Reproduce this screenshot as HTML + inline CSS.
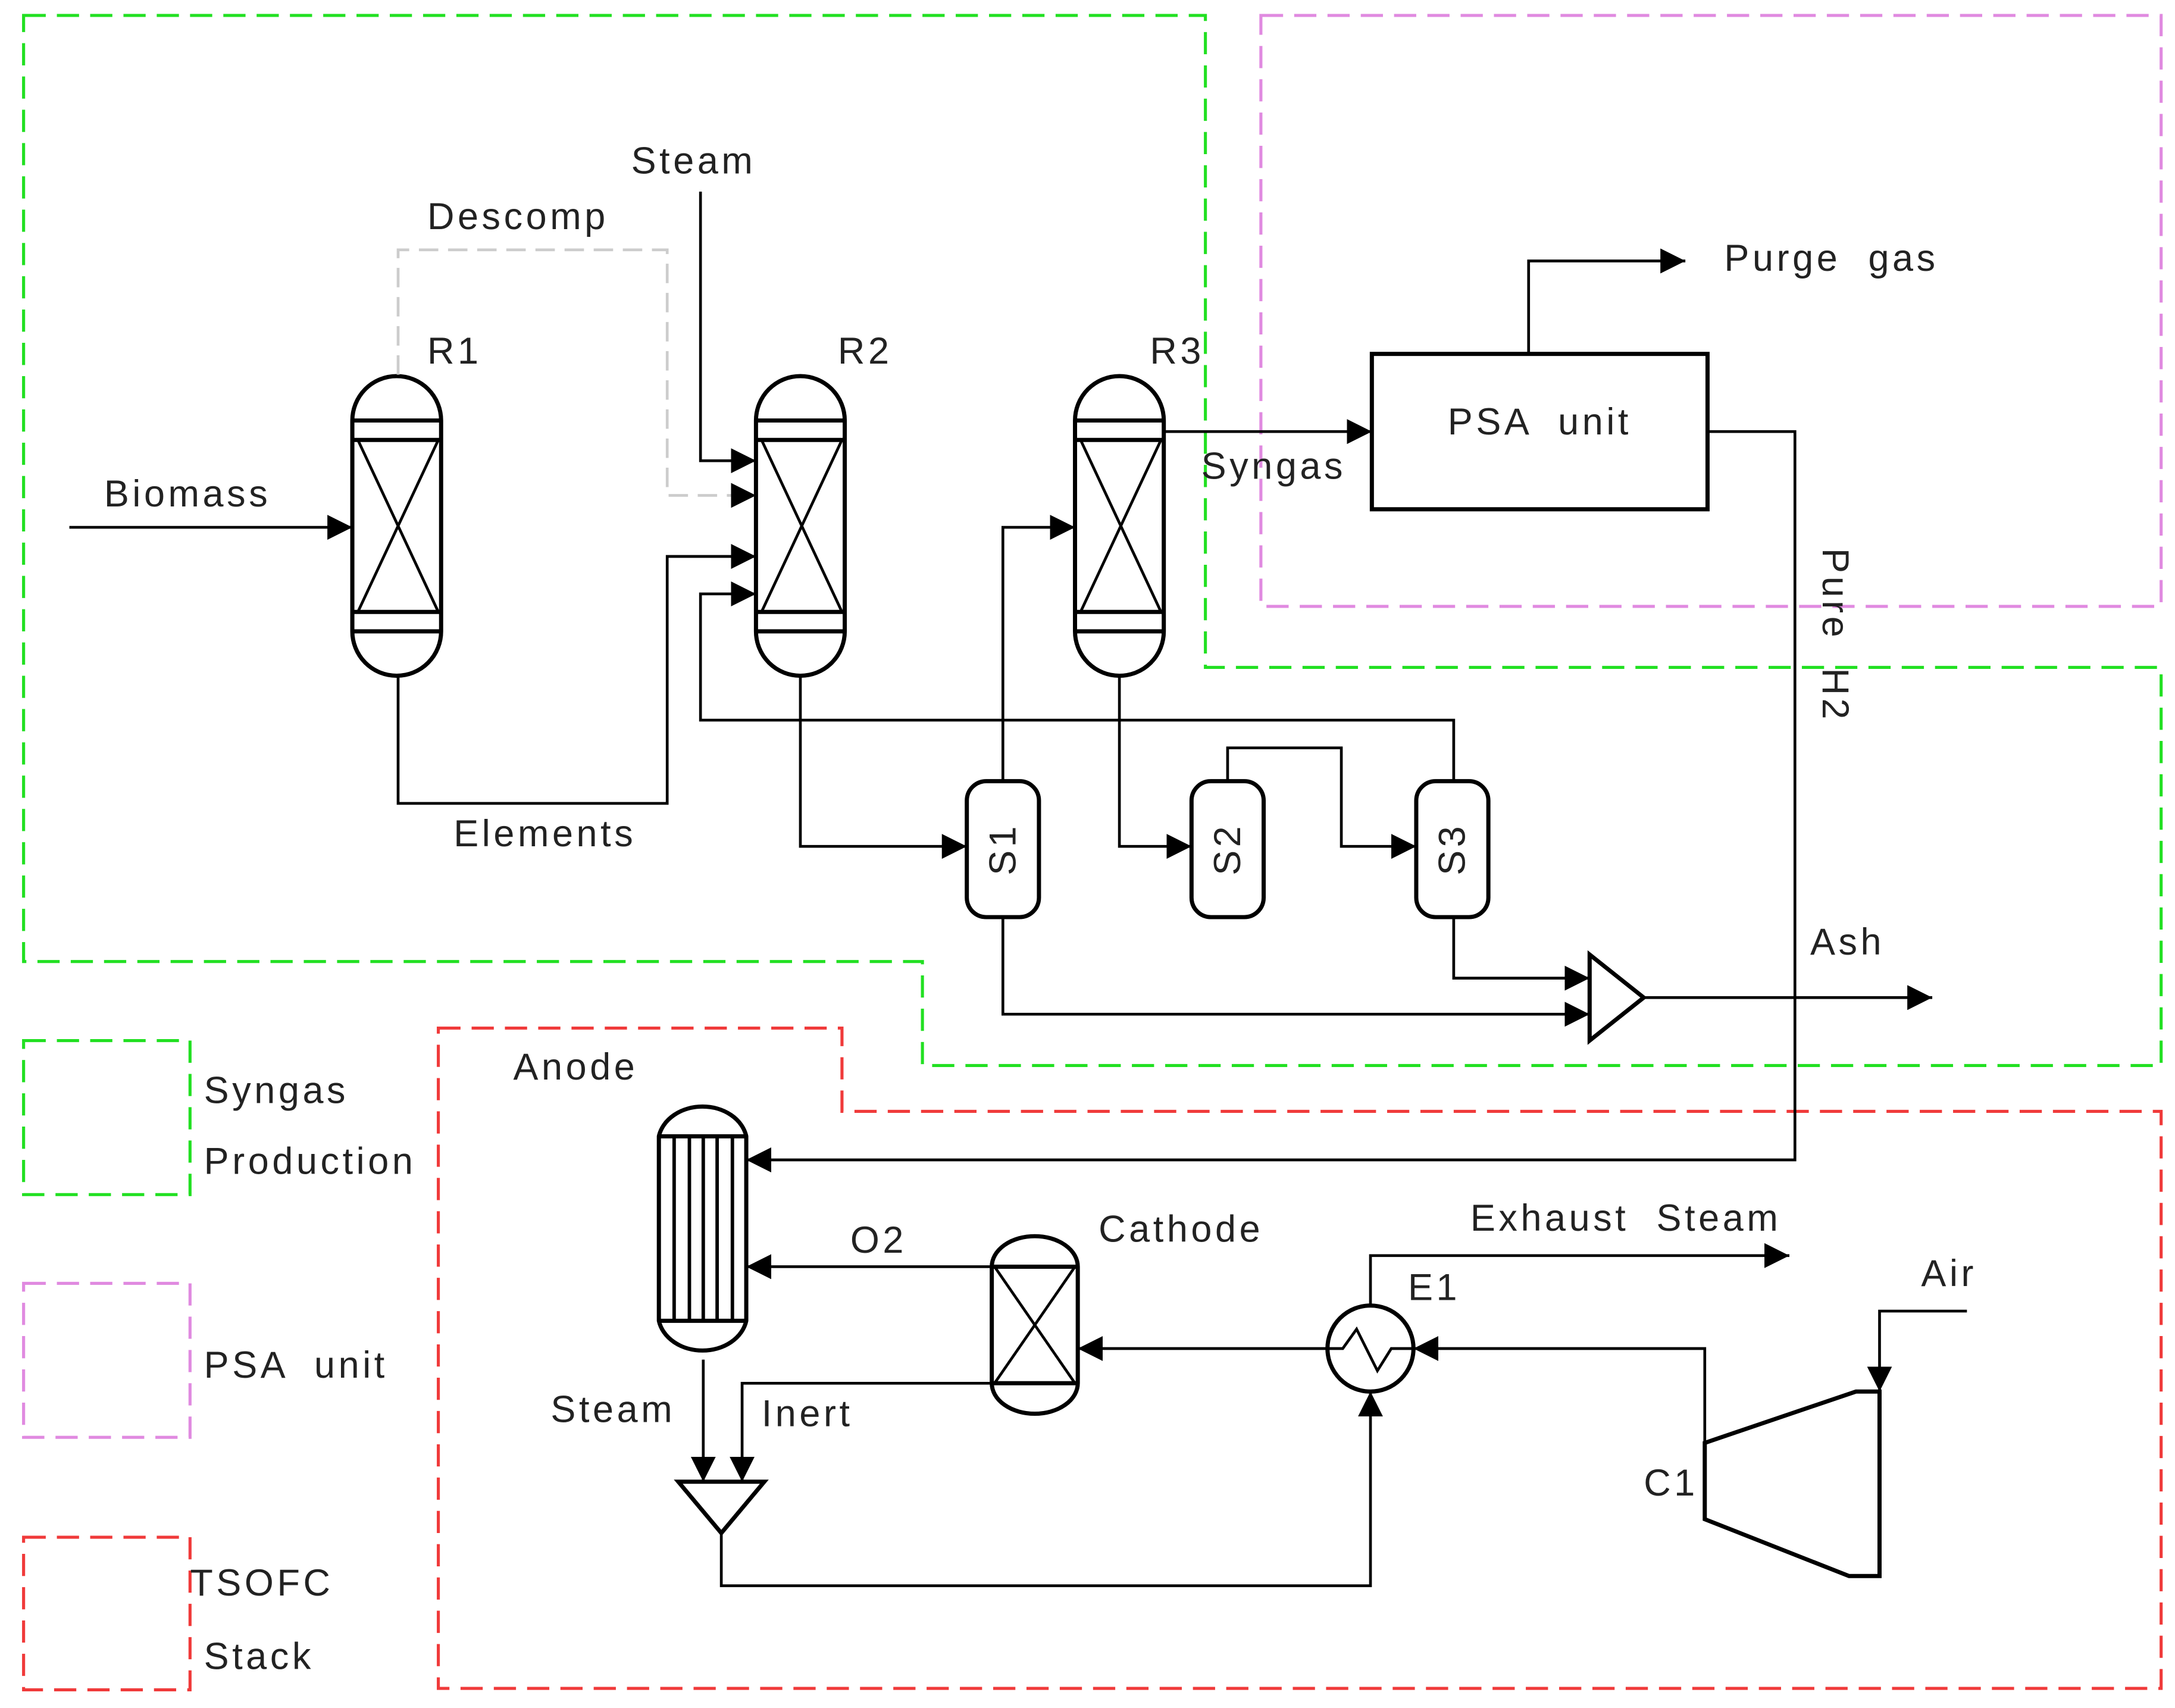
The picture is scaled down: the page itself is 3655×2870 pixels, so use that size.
<!DOCTYPE html>
<html><head><meta charset="utf-8"><style>
html,body{margin:0;padding:0;background:#fff;}
svg{display:block;}
text{font-family:"Liberation Sans","DejaVu Sans",sans-serif;font-size:27px;fill:#222;letter-spacing:2.4px;white-space:pre;}
</style></head><body>
<svg width="3655" height="2870" viewBox="0 0 1568 1231" xmlns="http://www.w3.org/2000/svg">
<defs>
<marker id="a" viewBox="0 0 10 10" refX="10" refY="5" markerWidth="18" markerHeight="18" markerUnits="userSpaceOnUse" orient="auto"><path d="M0,0 L10,5 L0,10 z" fill="#000"/></marker>
</defs>
<rect width="1568" height="1231" fill="#fff"/>
<g fill="none" stroke-width="2.2" stroke-dasharray="16,8">
<polygon points="17,11 869,11 869,481 1558,481 1558,768 665,768 665,693 17,693" stroke="#22e022"/>
<rect x="909" y="11" width="649" height="426" stroke="#e08ae0"/>
<polygon points="316,741 607,741 607,801 1558,801 1558,1217 316,1217" stroke="#f03a3a"/>
<rect x="17" y="750" width="120" height="111" stroke="#22e022"/>
<rect x="17" y="925" width="120" height="111" stroke="#e08ae0"/>
<rect x="17" y="1108" width="120" height="110" stroke="#f03a3a"/>
</g>
<text x="147" y="795">Syngas</text>
<text x="147" y="846">Production</text>
<text x="147" y="993">PSA  unit</text>
<text x="137" y="1150">TSOFC</text>
<text x="147" y="1203">Stack</text>

<g fill="none" stroke="#000" stroke-width="3">
<g id="r1">
<path d="M254,303 V455 A32,32 0 0 0 318,455 V303 A32,32 0 0 0 254,303 z"/>
<line x1="254" y1="303" x2="318" y2="303"/><line x1="254" y1="317" x2="318" y2="317"/>
<line x1="254" y1="441" x2="318" y2="441"/><line x1="254" y1="455" x2="318" y2="455"/>
<path d="M258,317 L316,441 M316,317 L258,441" stroke-width="2"/>
</g>
<use href="#r1" x="291"/>
<use href="#r1" x="521"/>
<rect x="697" y="563" width="52" height="98" rx="14"/>
<rect x="859" y="563" width="52" height="98" rx="14"/>
<rect x="1021" y="563" width="52" height="98" rx="14"/>
<rect x="989" y="255" width="242" height="112"/>
<polygon points="1146,688 1146,750 1185,719"/>
<path d="M475,822 V955 A32,26 0 0 0 538,955 V822 A32,26 0 0 0 475,822 z" transform="translate(0,-3)"/>
<line x1="475" y1="819" x2="538" y2="819"/><line x1="475" y1="952" x2="538" y2="952"/>
<path d="M486,819V952 M497,819V952 M507,819V952 M517,819V952 M528,819V952" stroke-width="2.5"/>
<path d="M715,913 V997 A31,22 0 0 0 777,997 V913 A31,22 0 0 0 715,913 z"/>
<line x1="715" y1="913" x2="777" y2="913"/><line x1="715" y1="997" x2="777" y2="997"/>
<path d="M717,913 L775,997 M775,913 L717,997" stroke-width="2"/>
<circle cx="988" cy="972" r="31"/>
<path d="M957,972 L968,972 L978,958 L993,988 L1003,972 L1019,972" stroke-width="2"/>
<polygon points="489,1068 551,1068 520,1105"/>
<polygon points="1229,1040 1338,1003 1355,1003 1355,1136 1333,1136 1229,1095"/>
</g>
<text x="308" y="262">R1</text>
<text x="604" y="262">R2</text>
<text x="829" y="262">R3</text>
<text transform="translate(732,612) rotate(-90)" text-anchor="middle" font-size="24">S1</text>
<text transform="translate(894,612) rotate(-90)" text-anchor="middle" font-size="24">S2</text>
<text transform="translate(1056,612) rotate(-90)" text-anchor="middle" font-size="24">S3</text>
<text x="1110" y="313" text-anchor="middle">PSA  unit</text>

<g fill="none" stroke="#000" stroke-width="2">
<path d="M287,270 V180 H481 V357 H545" stroke="#ccc" stroke-dasharray="14,7" marker-end="url(#a)"/>
<path d="M50,380 H254" marker-end="url(#a)"/>
<path d="M505,138 V332 H545" marker-end="url(#a)"/>
<path d="M287,487 V579 H481 V401 H545" marker-end="url(#a)"/>
<path d="M1048,563 V519 H505 V428 H545" marker-end="url(#a)"/>
<path d="M577,487 V610 H697" marker-end="url(#a)"/>
<path d="M723,563 V380 H775" marker-end="url(#a)"/>
<path d="M807,487 V610 H859" marker-end="url(#a)"/>
<path d="M885,563 V539 H967 V610 H1021" marker-end="url(#a)"/>
<path d="M1048,661 V705 H1146" marker-end="url(#a)"/>
<path d="M723,661 V731 H1146" marker-end="url(#a)"/>
<path d="M1185,719 H1393" marker-end="url(#a)"/>
<path d="M839,311 H989" marker-end="url(#a)"/>
<path d="M1102,255 V188 H1215" marker-end="url(#a)"/>
<path d="M1231,311 H1294 V836 H538" marker-end="url(#a)"/>
<path d="M715,913 H538" marker-end="url(#a)"/>
<path d="M988,941 V905 H1290" marker-end="url(#a)"/>
<path d="M957,972 H777" marker-end="url(#a)"/>
<path d="M1418,945 H1355 V1003" marker-end="url(#a)"/>
<path d="M1229,1040 V972 H1019" marker-end="url(#a)"/>
<path d="M715,997 H535 V1068" marker-end="url(#a)"/>
<path d="M507,980 V1068" marker-end="url(#a)"/>
<path d="M520,1105 V1143 H988 V1003" marker-end="url(#a)"/>
</g>
<text x="308" y="165">Descomp</text>
<text x="455" y="125">Steam</text>
<text x="75" y="365">Biomass</text>
<text x="327" y="610">Elements</text>
<text x="866" y="345">Syngas</text>
<text x="1243" y="195">Purge  gas</text>
<text x="1305" y="688">Ash</text>
<text transform="translate(1314,395) rotate(90)">Pure  H2</text>
<text x="370" y="778">Anode</text>
<text x="792" y="895">Cathode</text>
<text x="613" y="903">O2</text>
<text x="1060" y="887">Exhaust  Steam</text>
<text x="1015" y="937">E1</text>
<text x="1385" y="927">Air</text>
<text x="1185" y="1078">C1</text>
<text x="549" y="1028">Inert</text>
<text x="397" y="1025">Steam</text>
</svg>
</body></html>
